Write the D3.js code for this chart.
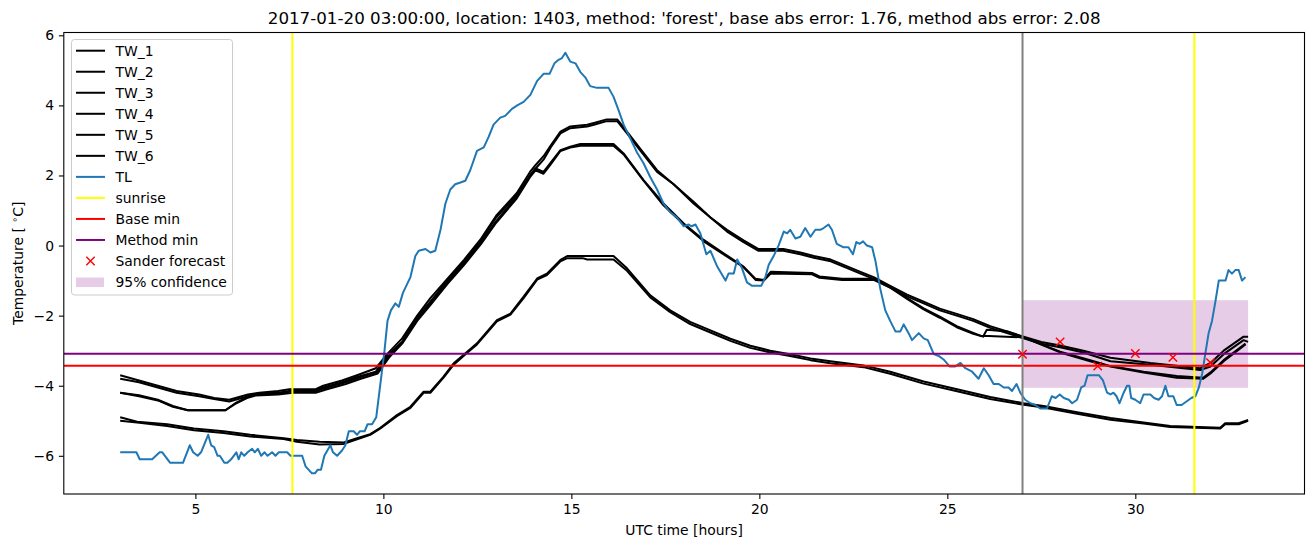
<!DOCTYPE html>
<html><head><meta charset="utf-8">
<script src="https://cdn.jsdelivr.net/npm/d3@7"></script>
<style>body{margin:0;background:#fff}svg{display:block;font-family:"DejaVu Sans",sans-serif}</style>
</head><body><svg id="c" width="1313" height="547"></svg>
<script>
const TITLE = "2017-01-20 03:00:00, location: 1403, method: 'forest', base abs error: 1.76, method abs error: 2.08";
const xTicks = [5,10,15,20,25,30];
const yTicks = [-6,-4,-2,0,2,4,6];
const seriesNames = ["TW_1","TW_2","TW_3","TW_4","TW_5","TW_6"];

const TW_1 = [[3,-3.7],[3.5,-3.85],[4,-4.0],[4.5,-4.15],[5.1,-4.25],[5.5,-4.35],[5.9,-4.4],[6.4,-4.25],[6.7,-4.2],[7.2,-4.15],[7.5,-4.1],[8.2,-4.1],[8.4,-4.0],[8.9,-3.85],[9.3,-3.7],[9.8,-3.5],[10.1,-3.1],[10.5,-2.65],[10.9,-2.0],[11.25,-1.5],[11.7,-0.95],[12.15,-0.4],[12.6,0.2],[13.0,0.85],[13.55,1.5],[13.9,2.1],[14.05,2.3],[14.26,2.55],[14.45,2.85],[14.71,3.25],[14.97,3.4],[15.42,3.45],[15.6,3.5],[15.94,3.6],[16.22,3.6],[16.48,3.25],[16.84,2.75],[17.28,2.15],[17.72,1.75],[18.25,1.25],[18.7,0.8],[19.14,0.45],[19.58,0.15],[19.98,-0.1],[20.64,-0.1],[21.09,-0.2],[21.45,-0.3],[21.9,-0.4],[22.24,-0.55],[22.69,-0.75],[23.04,-0.9],[23.48,-1.15],[23.93,-1.4],[24.37,-1.6],[24.8,-1.8],[25.25,-1.95],[25.69,-2.1],[26.14,-2.3],[26.59,-2.45],[27.03,-2.6],[27.5,-2.75],[28.0,-2.85],[28.62,-3.0],[29.34,-3.2],[30.4,-3.35],[31.28,-3.45],[31.73,-3.5],[32.0,-3.35],[32.35,-3.0],[32.88,-2.6],[33,-2.6]];
const TW_2 = [[3,-3.8],[3.5,-3.9],[4,-4.05],[4.5,-4.2],[5.1,-4.3],[5.5,-4.38],[5.9,-4.45],[6.4,-4.3],[6.7,-4.22],[7.2,-4.2],[7.5,-4.15],[8.2,-4.15],[8.4,-4.05],[8.9,-3.9],[9.3,-3.75],[9.8,-3.6],[10.1,-3.15],[10.5,-2.75],[10.9,-2.05],[11.25,-1.6],[11.7,-1.0],[12.15,-0.45],[12.6,0.15],[13.0,0.8],[13.55,1.45],[13.9,2.0],[14.05,2.2],[14.26,2.45],[14.45,2.8],[14.71,3.2],[14.97,3.35],[15.42,3.4],[15.6,3.45],[15.94,3.55],[16.22,3.55],[16.48,3.2],[16.84,2.7],[17.28,2.1],[17.72,1.75],[18.25,1.2],[18.7,0.8],[19.14,0.4],[19.58,0.1],[19.98,-0.15],[20.64,-0.15],[21.09,-0.25],[21.45,-0.35],[21.9,-0.45],[22.24,-0.6],[22.69,-0.8],[23.04,-0.95],[23.48,-1.2],[23.93,-1.45],[24.37,-1.65],[24.8,-1.85],[25.25,-2.0],[25.69,-2.15],[26.14,-2.35],[26.59,-2.5],[27.03,-2.65],[27.5,-2.8],[28.0,-2.9],[28.62,-3.05],[29.34,-3.3],[30.4,-3.4],[31.28,-3.5],[31.73,-3.55],[32.0,-3.45],[32.35,-3.1],[32.88,-2.7],[33,-2.75]];
const TW_3 = [[3,-4.2],[3.5,-4.27],[4.0,-4.4],[4.4,-4.58],[4.8,-4.7],[5.8,-4.7],[6.06,-4.5],[6.37,-4.33],[6.6,-4.25],[7.2,-4.22],[7.6,-4.15],[8.2,-4.15],[8.5,-4.05],[9.0,-3.9],[9.4,-3.75],[9.85,-3.6],[10.15,-3.15],[10.5,-2.75],[10.9,-2.1],[11.25,-1.65],[11.7,-1.05],[12.15,-0.5],[12.6,0.1],[13.0,0.7],[13.55,1.4],[13.9,2.0],[14.05,2.2],[14.26,2.1],[14.44,2.35],[14.71,2.72],[14.97,2.82],[15.24,2.9],[16.12,2.9],[16.39,2.63],[16.92,1.87],[17.45,1.2],[17.99,0.63],[18.52,0.16],[19.05,-0.22],[19.58,-0.6],[19.9,-0.95],[20.12,-0.98],[20.3,-0.75],[21.4,-0.78],[21.6,-0.88],[22.2,-0.95],[23.04,-0.95],[23.48,-1.17],[23.93,-1.5],[24.37,-1.79],[24.8,-2.03],[25.25,-2.3],[25.69,-2.49],[25.9,-2.58],[26.1,-2.58],[27.03,-2.62],[28.0,-3.03],[28.8,-3.27],[29.34,-3.44],[30.22,-3.6],[31.1,-3.72],[31.81,-3.77],[32.0,-3.62],[32.35,-3.27],[32.93,-2.8]];
const TW_4 = [[3,-4.2],[3.5,-4.3],[4.0,-4.42],[4.4,-4.6],[4.8,-4.7],[5.8,-4.7],[6.06,-4.52],[6.37,-4.35],[6.6,-4.28],[7.2,-4.25],[7.6,-4.2],[8.2,-4.2],[8.5,-4.1],[9.0,-3.95],[9.4,-3.8],[9.85,-3.65],[10.15,-3.2],[10.5,-2.8],[10.9,-2.15],[11.25,-1.7],[11.7,-1.1],[12.15,-0.55],[12.6,0.05],[13.0,0.65],[13.55,1.35],[13.9,1.95],[14.05,2.15],[14.26,2.05],[14.44,2.3],[14.71,2.7],[14.97,2.8],[15.24,2.85],[16.12,2.85],[16.39,2.6],[16.92,1.85],[17.45,1.15],[17.99,0.6],[18.52,0.12],[19.05,-0.25],[19.58,-0.62],[19.9,-0.98],[20.12,-1.0],[20.3,-0.8],[21.4,-0.82],[21.6,-0.92],[22.2,-0.98],[23.04,-0.98],[23.48,-1.2],[23.93,-1.52],[24.37,-1.82],[24.8,-2.06],[25.25,-2.33],[25.69,-2.52],[25.95,-2.6],[26.05,-2.4],[26.6,-2.45],[27.03,-2.62],[28.0,-3.05],[28.8,-3.3],[29.34,-3.45],[30.22,-3.62],[31.1,-3.77],[31.81,-3.8],[32.0,-3.65],[32.35,-3.3],[32.93,-2.82]];
const TW_5 = [[3,-4.9],[3.45,-5.03],[4.25,-5.1],[4.96,-5.22],[5.75,-5.3],[6.46,-5.4],[7.35,-5.5],[7.7,-5.55],[8.3,-5.6],[8.95,-5.62],[9.3,-5.5],[9.65,-5.38],[9.92,-5.2],[10.36,-4.84],[10.72,-4.6],[11.07,-4.17],[11.25,-4.17],[11.6,-3.74],[11.87,-3.36],[12.23,-3.03],[12.49,-2.79],[13.02,-2.13],[13.38,-1.94],[13.73,-1.46],[14.09,-0.94],[14.35,-0.8],[14.71,-0.41],[14.89,-0.3],[16.12,-0.3],[16.48,-0.65],[17.1,-1.42],[17.63,-1.85],[18.16,-2.18],[18.7,-2.42],[19.23,-2.66],[19.76,-2.86],[20.29,-3.0],[20.82,-3.1],[21.36,-3.22],[21.89,-3.3],[22.77,-3.42],[23.48,-3.6],[24.37,-3.88],[25.26,-4.1],[26.14,-4.32],[27.03,-4.5],[27.56,-4.58],[28.45,-4.76],[29.34,-4.92],[30.22,-5.05],[30.93,-5.15],[32.26,-5.2],[32.39,-5.07],[32.75,-5.07],[33,-4.98]];
const TW_6 = [[3,-5.0],[3.45,-5.05],[4.25,-5.15],[4.96,-5.27],[5.75,-5.35],[6.46,-5.45],[7.35,-5.52],[7.7,-5.6],[8.3,-5.68],[8.95,-5.66],[9.3,-5.53],[9.65,-5.4],[9.92,-5.22],[10.36,-4.87],[10.72,-4.63],[11.07,-4.2],[11.25,-4.2],[11.6,-3.77],[11.87,-3.4],[12.23,-3.06],[12.49,-2.82],[13.02,-2.16],[13.38,-1.97],[13.73,-1.5],[14.09,-0.97],[14.35,-0.84],[14.71,-0.45],[14.89,-0.36],[15.3,-0.36],[15.42,-0.4],[16.12,-0.4],[16.48,-0.72],[17.1,-1.48],[17.63,-1.9],[18.16,-2.24],[18.7,-2.48],[19.23,-2.72],[19.76,-2.92],[20.29,-3.05],[20.82,-3.15],[21.36,-3.27],[21.89,-3.36],[22.77,-3.47],[23.48,-3.66],[24.37,-3.94],[25.26,-4.16],[26.14,-4.38],[27.03,-4.54],[27.56,-4.62],[28.45,-4.8],[29.34,-4.97],[30.22,-5.08],[30.93,-5.18],[32.26,-5.22],[32.39,-5.1],[32.75,-5.1],[33,-5.0]];
const TL = [[3.0,-5.9],[3.43,-5.9],[3.52,-6.1],[3.85,-6.1],[4.05,-5.9],[4.12,-5.9],[4.33,-6.2],[4.67,-6.2],[4.85,-5.7],[4.94,-5.9],[5.06,-6.0],[5.15,-5.9],[5.34,-5.4],[5.42,-5.7],[5.5,-5.75],[5.59,-6.0],[5.65,-6.0],[5.77,-6.2],[5.85,-6.2],[5.95,-6.1],[6.09,-5.9],[6.15,-6.1],[6.22,-5.9],[6.3,-6.0],[6.39,-5.9],[6.51,-5.8],[6.58,-5.9],[6.66,-5.8],[6.75,-6.0],[6.84,-5.9],[6.92,-6.0],[7.04,-5.9],[7.13,-6.0],[7.22,-5.9],[7.44,-5.9],[7.53,-6.0],[7.84,-6.0],[7.93,-6.3],[8.1,-6.5],[8.18,-6.5],[8.25,-6.4],[8.34,-6.4],[8.43,-6.0],[8.59,-5.7],[8.66,-5.9],[8.77,-6.0],[8.9,-5.85],[8.99,-5.7],[9.08,-5.3],[9.21,-5.3],[9.3,-5.4],[9.37,-5.3],[9.5,-5.3],[9.58,-5.1],[9.7,-5.1],[9.81,-4.9],[9.92,-3.95],[10.03,-3.0],[10.11,-2.15],[10.2,-1.85],[10.32,-1.65],[10.41,-1.75],[10.52,-1.35],[10.72,-0.9],[10.85,-0.3],[10.94,-0.15],[11.12,-0.1],[11.25,-0.2],[11.38,-0.15],[11.52,0.45],[11.65,1.2],[11.78,1.6],[11.91,1.75],[12.05,1.8],[12.18,1.85],[12.31,2.15],[12.49,2.7],[12.67,2.8],[12.8,3.1],[12.93,3.45],[13.11,3.65],[13.24,3.7],[13.42,3.9],[13.56,4.0],[13.73,4.1],[13.91,4.3],[14.09,4.7],[14.26,4.9],[14.42,4.9],[14.55,5.2],[14.66,5.3],[14.75,5.35],[14.84,5.5],[14.97,5.25],[15.11,5.2],[15.24,4.95],[15.37,4.8],[15.5,4.55],[15.68,4.5],[15.82,4.5],[15.99,4.5],[16.12,4.25],[16.26,3.85],[16.39,3.45],[16.57,3.05],[16.75,2.65],[16.92,2.35],[17.1,1.95],[17.28,1.6],[17.45,1.2],[17.63,0.95],[17.81,0.8],[17.99,0.55],[18.12,0.6],[18.2,0.55],[18.3,0.6],[18.43,0.35],[18.59,-0.25],[18.7,-0.15],[18.88,-0.6],[19.1,-1.0],[19.18,-0.8],[19.32,-0.8],[19.41,-0.4],[19.54,-0.65],[19.67,-1.05],[19.81,-1.15],[19.94,-1.15],[20.05,-1.15],[20.16,-0.9],[20.25,-0.55],[20.38,-0.3],[20.51,0.0],[20.65,0.4],[20.74,0.35],[20.82,0.45],[20.96,0.2],[21.09,0.25],[21.22,0.5],[21.36,0.25],[21.49,0.45],[21.62,0.45],[21.71,0.5],[21.84,0.6],[21.93,0.45],[22.06,0.05],[22.24,-0.05],[22.37,-0.05],[22.49,-0.25],[22.58,0.1],[22.67,0.05],[22.76,0.12],[22.86,0.0],[23.0,-0.05],[23.09,-0.45],[23.22,-1.25],[23.35,-1.85],[23.48,-2.15],[23.62,-2.45],[23.75,-2.45],[23.84,-2.25],[23.97,-2.5],[24.06,-2.7],[24.24,-2.5],[24.37,-2.65],[24.48,-2.7],[24.64,-3.1],[24.77,-3.15],[24.9,-3.25],[25.06,-3.45],[25.21,-3.45],[25.35,-3.35],[25.48,-3.5],[25.66,-3.6],[25.83,-3.8],[25.97,-3.5],[26.1,-3.7],[26.23,-3.95],[26.37,-3.95],[26.5,-4.05],[26.63,-4.05],[26.72,-4.15],[26.84,-3.95],[26.94,-4.2],[27.07,-4.4],[27.21,-4.5],[27.34,-4.55],[27.47,-4.65],[27.65,-4.65],[27.78,-4.3],[27.88,-4.35],[27.99,-4.25],[28.1,-4.35],[28.23,-4.4],[28.32,-4.5],[28.45,-4.4],[28.56,-4.05],[28.65,-4.0],[28.73,-3.7],[29.03,-3.7],[29.14,-3.85],[29.25,-4.2],[29.34,-4.25],[29.42,-4.2],[29.5,-4.3],[29.58,-4.5],[29.69,-4.2],[29.78,-4.0],[29.84,-4.0],[29.89,-4.35],[30.0,-4.4],[30.13,-4.5],[30.22,-4.25],[30.4,-4.25],[30.5,-4.35],[30.62,-4.4],[30.71,-4.3],[30.8,-4.0],[30.88,-4.3],[31.01,-4.3],[31.1,-4.55],[31.23,-4.55],[31.36,-4.45],[31.49,-4.35],[31.6,-4.3],[31.69,-4.05],[31.78,-3.65],[31.86,-3.1],[31.95,-2.5],[32.04,-2.15],[32.13,-1.6],[32.22,-1.0],[32.35,-1.0],[32.4,-1.0],[32.48,-0.7],[32.57,-0.8],[32.66,-0.7],[32.75,-0.7],[32.84,-1.0],[32.93,-0.9]];
const sunrise = [7.58, 31.57];
const forecastStart = 27.0;
const baseMin = -3.43;
const methodMin = -3.09;
const forecastHours = [27, 28, 29, 30, 31, 32];
const forecastValues = [-3.10, -2.75, -3.44, -3.08, -3.19, -3.34];
const confHours = [27, 33];
const confRange = [-4.06, -1.56];

const svg = d3.select("#c");
const L = 63.8, R = 1304.5, T = 32.5, B = 494;
const x = d3.scaleLinear().domain([1.5, 34.5]).range([L, R]);
const y = d3.scaleLinear().domain([-7.09, 6.08]).range([B, T]);

svg.append("defs").append("clipPath").attr("id","clip").append("rect")
  .attr("x",L).attr("y",T).attr("width",R-L).attr("height",B-T);
const g = svg.append("g").attr("clip-path","url(#clip)");

// confidence box
g.append("rect").attr("x", x(confHours[0])).attr("width", x(confHours[1]) - x(confHours[0]))
  .attr("y", y(confRange[1])).attr("height", y(confRange[0]) - y(confRange[1]))
  .attr("fill","purple").attr("fill-opacity",0.2);

const line = d3.line().x(d=>x(d[0])).y(d=>y(d[1]));
const TWs = [TW_1,TW_2,TW_3,TW_4,TW_5,TW_6];
TWs.forEach(s => g.append("path").attr("d", line(s)).attr("fill","none")
  .attr("stroke","#000").attr("stroke-width",2).attr("stroke-linejoin","round"));
g.append("path").attr("d", line(TL)).attr("fill","none").attr("stroke","#1f77b4")
  .attr("stroke-width",2).attr("stroke-linejoin","round");

sunrise.forEach(h => g.append("line").attr("x1",x(h)).attr("x2",x(h)).attr("y1",T).attr("y2",B)
  .attr("stroke","yellow").attr("stroke-width",2));
g.append("line").attr("x1",L).attr("x2",R).attr("y1",y(baseMin)).attr("y2",y(baseMin))
  .attr("stroke","red").attr("stroke-width",2);
g.append("line").attr("x1",L).attr("x2",R).attr("y1",y(methodMin)).attr("y2",y(methodMin))
  .attr("stroke","purple").attr("stroke-width",2);
g.append("line").attr("x1",x(forecastStart)).attr("x2",x(forecastStart)).attr("y1",T).attr("y2",B)
  .attr("stroke","gray").attr("stroke-width",2);

const xm = 4.2;
forecastHours.forEach((h,i) => {
  const cx = x(h), cy = y(forecastValues[i]);
  g.append("path").attr("d",`M${cx-xm},${cy-xm}L${cx+xm},${cy+xm}M${cx-xm},${cy+xm}L${cx+xm},${cy-xm}`)
    .attr("stroke","red").attr("stroke-width",1.4).attr("fill","none");
});

// axes
const xAxis = d3.axisBottom(x).tickValues(xTicks).tickSize(4.9).tickPadding(4.9).tickFormat(d3.format("d"));
const yAxis = d3.axisLeft(y).tickValues(yTicks).tickSize(4.9).tickPadding(4.9).tickFormat(d=>d<0?"\u2212"+Math.abs(d):d);
const gx = svg.append("g").attr("transform",`translate(0,${B})`).call(xAxis);
const gy = svg.append("g").attr("transform",`translate(${L},0)`).call(yAxis);
[gx,gy].forEach(a=>{
  a.select(".domain").remove();
  a.selectAll("line").attr("stroke","#000").attr("stroke-width",1.1);
  a.selectAll("text").attr("font-family","DejaVu Sans").attr("font-size",13.9).attr("fill","#000");
});
svg.append("rect").attr("x",L).attr("y",T).attr("width",R-L).attr("height",B-T)
  .attr("fill","none").attr("stroke","#000").attr("stroke-width",1.1);

svg.append("text").attr("x",(L+R)/2).attr("y",24).attr("text-anchor","middle")
  .attr("font-size",16.7).text(TITLE);
svg.append("text").attr("x",(L+R)/2).attr("y",535).attr("text-anchor","middle")
  .attr("font-size",13.9).text("UTC time [hours]");
const yl = svg.append("text").attr("transform",`translate(23,${(T+B)/2}) rotate(-90)`)
  .attr("text-anchor","middle").attr("font-size",13.9);
yl.append("tspan").text("Temperature [ ");
yl.append("tspan").attr("font-size",9.7).attr("dy",-5).text("\u2218");
yl.append("tspan").attr("dy",5).text("C]");

// legend
const lg = svg.append("g");
lg.append("rect").attr("x",71.5).attr("y",39.5).attr("width",161).attr("height",255.5).attr("rx",3)
  .attr("fill","#fff").attr("fill-opacity",0.8).attr("stroke","#cccccc").attr("stroke-width",1);
const entries = seriesNames.map(n=>({label:n,type:"line",color:"#000"})).concat([
  {label:"TL",type:"line",color:"#1f77b4"},
  {label:"sunrise",type:"line",color:"yellow"},
  {label:"Base min",type:"line",color:"red"},
  {label:"Method min",type:"line",color:"purple"},
  {label:"Sander forecast",type:"marker",color:"red"},
  {label:"95% confidence",type:"patch",color:"purple"}]);
entries.forEach((e,i)=>{
  const cy = 50.7 + i*21.03;
  if(e.type==="line") lg.append("line").attr("x1",76).attr("x2",105).attr("y1",cy).attr("y2",cy)
    .attr("stroke",e.color).attr("stroke-width",2);
  else if(e.type==="marker") lg.append("path").attr("d",`M${90.5-xm},${cy-xm}L${90.5+xm},${cy+xm}M${90.5-xm},${cy+xm}L${90.5+xm},${cy-xm}`)
    .attr("stroke","red").attr("stroke-width",1.4);
  else lg.append("rect").attr("x",76).attr("y",cy-4.5).attr("width",28).attr("height",9.5)
    .attr("fill","purple").attr("fill-opacity",0.2);
  lg.append("text").attr("x",115.5).attr("y",cy+5).attr("font-size",13.9).text(e.label);
});
</script></body></html>
